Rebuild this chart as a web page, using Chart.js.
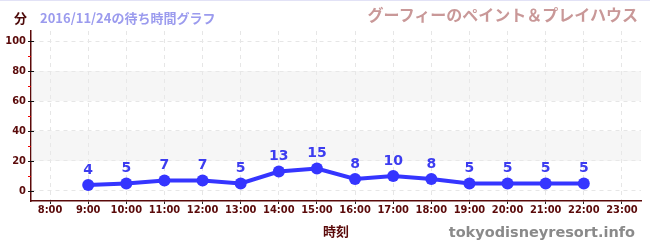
<!DOCTYPE html>
<html>
<head>
<meta charset="utf-8">
<script src="https://cdn.jsdelivr.net/npm/chart.js@4"></script>
<style>
  body { margin: 0; background: #fff; }
  #wrap { position: relative; width: 650px; height: 250px; border-top: 1px solid #e2e2f6; box-sizing: border-box; }
  #unit { position: absolute; left: 14px; top: 7px; font: bold 13px "Noto Sans CJK JP"; color: #4d0a0a; }
  #date { position: absolute; left: 40px; top: 7px; font: bold 13px "Noto Sans CJK JP"; color: #9b9bee; }
  #ride { position: absolute; right: 12px; top: 1px; font: bold 16px "Noto Sans CJK JP"; color: #c99898; }
  #site { position: absolute; right: 15px; top: 223px; font: bold 14.5px "DejaVu Sans"; color: #8a8a8a; }
  canvas { position: absolute; left: 0; top: 0; }
</style>
</head>
<body>
<div id="wrap">
  <canvas id="myChart" width="650" height="250"></canvas>
  <div id="unit">分</div>
  <div id="date">2016/11/24の待ち時間グラフ</div>
  <div id="ride">グーフィーのペイント＆プレイハウス</div>
  <div id="site">tokyodisneyresort.info</div>
</div>
<script>
var hours = ["8:00","9:00","10:00","11:00","12:00","13:00","14:00","15:00","16:00","17:00","18:00","19:00","20:00","21:00","22:00","23:00"]
var waits = [null,4,5,7,7,5,13,15,8,10,8,5,5,5,5,null]
var yTicks = [0,20,40,60,80,100]
var yMinor = [10,30,50,70,90]

var maroon = "#5a0a0a"

// grey bands 20-40 and 60-80, axis ticks, value labels
var extras = {
  id: "extras",
  beforeDatasetsDraw: function(chart){
    var ctx = chart.ctx, a = chart.chartArea, y = chart.scales.y
    ctx.save()
    ctx.fillStyle = "rgba(235,235,235,0.45)"
    ;[[20,40],[60,80]].forEach(function(b){
      var t = y.getPixelForValue(b[1]), btm = y.getPixelForValue(b[0])
      ctx.fillRect(a.left, t, a.right - a.left, btm - t)
    })
    ctx.restore()
  },
  afterDraw: function(chart){
    var ctx = chart.ctx, a = chart.chartArea, y = chart.scales.y
    ctx.save()
    ctx.lineWidth = 1
    ctx.strokeStyle = "#111"
    yTicks.forEach(function(v){
      var p = Math.round(y.getPixelForValue(v)) + 0.5
      ctx.beginPath(); ctx.moveTo(a.left - 3, p); ctx.lineTo(a.left + 3, p); ctx.stroke()
    })
    ctx.strokeStyle = "#e00"
    yMinor.forEach(function(v){
      var p = Math.round(y.getPixelForValue(v)) + 0.5
      ctx.beginPath(); ctx.moveTo(a.left - 3, p); ctx.lineTo(a.left, p); ctx.stroke()
    })
    var meta = chart.getDatasetMeta(0)
    ctx.fillStyle = "#3c3cf0"
    ctx.font = "bold 14px 'DejaVu Sans'"
    ctx.textAlign = "center"
    ctx.textBaseline = "middle"
    meta.data.forEach(function(pt, i){
      if (waits[i] == null) return
      ctx.fillText(waits[i], pt.x, pt.y - 15)
    })
    ctx.restore()
  }
}

var chart = new Chart(document.getElementById("myChart").getContext("2d"), {
  type: "line",
  data: {
    labels: hours,
    datasets: [{
      data: waits,
      borderColor: "#3535ff",
      backgroundColor: "#3535ff",
      borderWidth: 4,
      pointRadius: 6,
      pointHoverRadius: 6,
      pointBorderWidth: 0,
      tension: 0
    }]
  },
  options: {
    responsive: false,
    animation: false,
    events: [],
    layout: { padding: { top: 30, right: 9, left: 0, bottom: 8 } },
    plugins: { legend: { display: false }, tooltip: { enabled: false } },
    scales: {
      x: {
        offset: true,
        grid: { color: "#e6e6e6", tickColor: "#222", tickLength: 3, offset: false, drawOnChartArea: true },
        border: { color: maroon, width: 1.5, dash: [4,4] },
        ticks: { color: maroon, font: { family: "DejaVu Sans Condensed", weight: "bold", size: 11 }, padding: 0, maxRotation: 0, autoSkip: false },
        title: { display: true, text: "時刻", color: maroon, font: { family: "Noto Sans CJK JP", weight: "bold", size: 13 }, padding: { top: 2 } },
        afterFit: function(s){ s.height = 42 }
      },
      y: {
        min: -6.7,
        max: 106.7,
        afterBuildTicks: function(s){ s.ticks = yTicks.map(function(v){ return { value: v } }) },
        grid: { color: "#e6e6e6", drawTicks: false },
        border: { color: maroon, width: 1.5, dash: [4,4] },
        ticks: { color: maroon, font: { family: "DejaVu Sans Condensed", weight: "bold", size: 11 }, padding: 5 },
        afterFit: function(s){ s.width = 31 }
      }
    }
  },
  plugins: [extras]
})
</script>
</body>
</html>
